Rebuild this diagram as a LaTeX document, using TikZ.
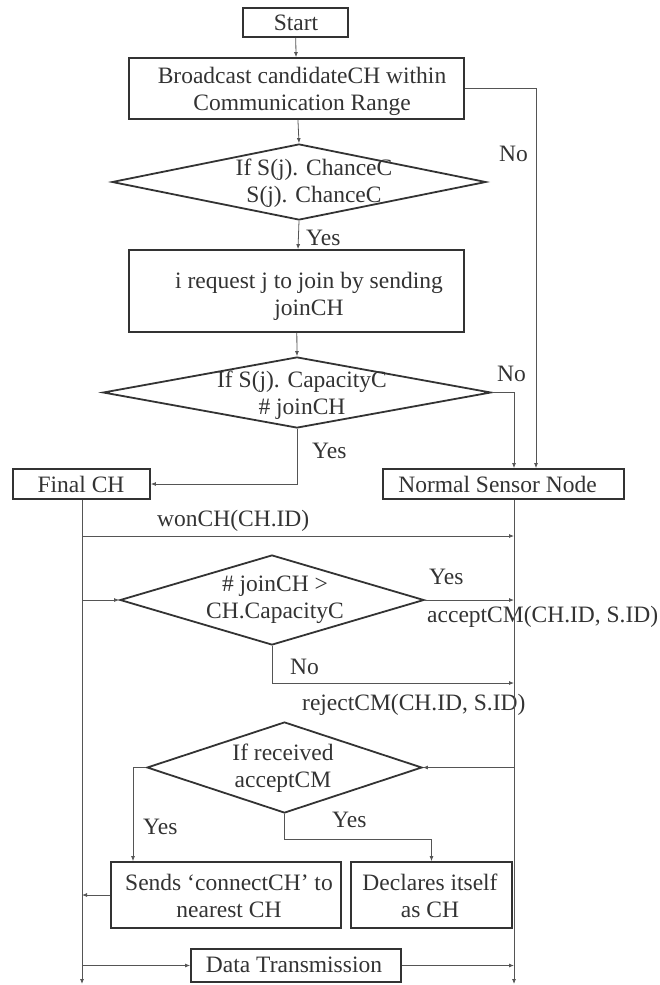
\documentclass[tikz,border=0pt]{standalone}
\usepackage{fontspec}
\setmainfont{Liberation Serif}
\usetikzlibrary{arrows.meta,shapes.geometric}
\definecolor{ink}{HTML}{333333}
\definecolor{wire}{HTML}{555555}
\begin{document}
\begin{tikzpicture}[x=1pt,y=-1pt,
  every node/.style={font=\fontsize{23.5}{27}\selectfont, text=ink},
  stepbox/.style={draw=ink, line width=1.8pt, inner sep=0pt},
  decision/.style={diamond, draw=ink, line width=1.8pt, inner sep=0pt},
  txt/.style={align=center, inner sep=0pt},
  lbl/.style={anchor=west, inner sep=0pt},
  flow/.style={draw=wire, line width=0.8pt, -{Latex[length=5pt,width=4pt]}},
  wire/.style={draw=wire, line width=0.8pt}]
\useasboundingbox (0,0) rectangle (659,985);

% shapes
\node[stepbox, minimum width=105pt, minimum height=29pt] (start) at (295.5,22.5) {};
\node[stepbox, minimum width=335pt, minimum height=61pt] (bc) at (296.5,88.5) {};
\node[decision, minimum width=374pt, minimum height=76pt] (d1) at (299,182) {};
\node[stepbox, minimum width=335pt, minimum height=82pt] (req) at (296.5,291) {};
\node[decision, minimum width=388pt, minimum height=71pt] (d2) at (297,392.5) {};
\node[stepbox, minimum width=137pt, minimum height=30pt] (fch) at (81.5,484) {};
\node[stepbox, minimum width=241pt, minimum height=30pt] (nsn) at (503.5,484) {};
\node[decision, minimum width=304pt, minimum height=90pt] (d3) at (272,600) {};
\node[decision, minimum width=275pt, minimum height=91pt] (d4) at (284.5,767.5) {};
\node[stepbox, minimum width=230pt, minimum height=66pt] (sends) at (226,895) {};
\node[stepbox, minimum width=161pt, minimum height=66pt] (decl) at (431.5,895) {};
\node[stepbox, minimum width=210pt, minimum height=33pt] (dt) at (296,965.5) {};

% texts inside the shapes
\node[txt] (startT) at (296,22.5) {Start};
\node[txt] (bcT) at (302,91) {Broadcast candidateCH within\\Communication Range};
\node[txt] (d1T) at (314,183) {If S(j). ChanceC\\S(j). ChanceC};
\node[txt] (reqT) at (309,296) {i request j to join by sending\\joinCH};
\node[txt] (d2T) at (302,395) {If S(j). CapacityC\\\# joinCH};
\node[txt] (fchT) at (81,484) {Final CH};
\node[txt] (nsnT) at (497.5,484) {Normal Sensor Node};
\node[txt] (d3T) at (275,600) {\# joinCH >\\CH.CapacityC};
\node[txt] (d4T) at (283,768) {If received\\acceptCM};
\node[txt] (sendsT) at (229,896) {Sends ‘connectCH’ to\\nearest CH};
\node[txt] (declT) at (430,896) {Declares itself\\as CH};
\node[txt] (dtT) at (294,965) {Data Transmission};

% edge labels
\node[lbl] (no1) at (499,154) {No};
\node[lbl] (yes1) at (306,238) {Yes};
\node[lbl] (no2) at (497,374) {No};
\node[lbl] (yes2) at (312,451) {Yes};
\node[lbl] (won) at (157,521) {wonCH(CH.ID)};
\node[lbl] (yes3) at (429,577) {Yes};
\node[lbl] (acc) at (427,617) {acceptCM(CH.ID, S.ID)};
\node[lbl] (no3) at (290,667) {No};
\node[lbl] (rej) at (302,705) {rejectCM(CH.ID, S.ID)};
\node[lbl] (yes4) at (143,827) {Yes};
\node[lbl] (yes5) at (332,820) {Yes};

% guide coordinates for the two lifelines and message rows
\coordinate (rl) at (514,984);
\coordinate (ll) at (82,984);
\coordinate (nox) at (536,0);
\coordinate (wonrow) at (0,536);
\coordinate (rejrow) at (0,683);
\coordinate (ylx) at (133,0);

% main flow
\draw[flow] (start) -- (bc);
\draw[flow] (bc) -- (d1.north);
\draw[flow] (d1.south) -- (req);
\draw[flow] (req) -- (d2.north);
\draw[flow] (bc.east) -| (nsn.north -| nox);
\draw[flow] (d2.east) -| (nsn.north -| rl);
\draw[flow] (d2.south) |- (fch.east);

% lifelines
\draw[flow] (fch.south -| ll) -- (ll);
\draw[flow] (nsn.south -| rl) -- (rl);

% messages
\draw[flow] (wonrow -| ll) -- (wonrow -| rl);
\draw[flow] (d3.west -| ll) -- (d3.west);
\draw[flow] (d3.east) -- (d3.east -| rl);
\draw[flow] (d3.south) |- (rejrow -| rl);
\draw[flow] (d4.east -| rl) -- (d4.east);
\draw[flow] (d4.west) -| (sends.north -| ylx);
\draw[flow] (d4.south) -- ++(0,25) -| (decl.north);
\draw[flow] (sends.west) -- (sends.west -| ll);
\draw[flow] (dt.west -| ll) -- (dt.west);
\draw[flow] (dt.east) -- (dt.east -| rl);
\end{tikzpicture}
\end{document}
